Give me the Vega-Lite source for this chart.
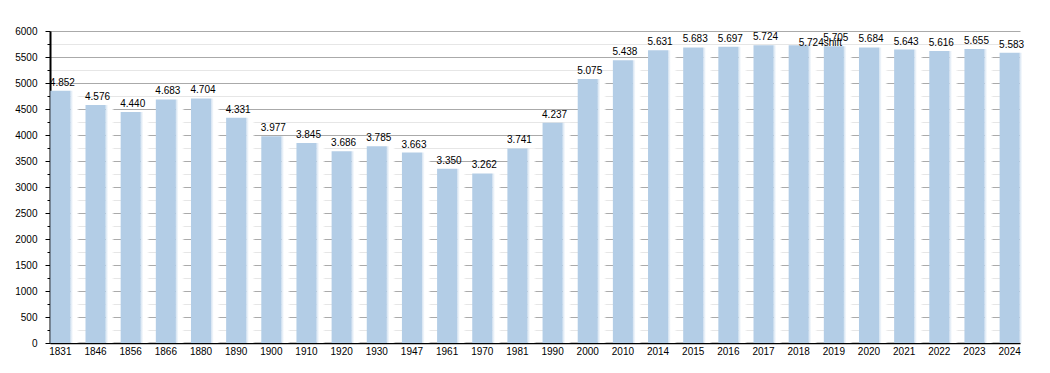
{
  "$schema": "https://vega.github.io/schema/vega-lite/v6.json",
  "width": 970,
  "height": 312,
  "autosize": {"type": "none"},
  "padding": {"left": 50, "top": 31, "right": 30, "bottom": 30},
  "background": "white",
  "config": {"view": {"stroke": null}, "font": "Liberation Sans"},
  "data": {"values": [
    {"year": 1831, "pop": 4852, "label": "4.852"},
    {"year": 1846, "pop": 4576, "label": "4.576"},
    {"year": 1856, "pop": 4440, "label": "4.440"},
    {"year": 1866, "pop": 4683, "label": "4.683"},
    {"year": 1880, "pop": 4704, "label": "4.704"},
    {"year": 1890, "pop": 4331, "label": "4.331"},
    {"year": 1900, "pop": 3977, "label": "3.977"},
    {"year": 1910, "pop": 3845, "label": "3.845"},
    {"year": 1920, "pop": 3686, "label": "3.686"},
    {"year": 1930, "pop": 3785, "label": "3.785"},
    {"year": 1947, "pop": 3663, "label": "3.663"},
    {"year": 1961, "pop": 3350, "label": "3.350"},
    {"year": 1970, "pop": 3262, "label": "3.262"},
    {"year": 1981, "pop": 3741, "label": "3.741"},
    {"year": 1990, "pop": 4237, "label": "4.237"},
    {"year": 2000, "pop": 5075, "label": "5.075"},
    {"year": 2010, "pop": 5438, "label": "5.438"},
    {"year": 2014, "pop": 5631, "label": "5.631"},
    {"year": 2015, "pop": 5683, "label": "5.683"},
    {"year": 2016, "pop": 5697, "label": "5.697"},
    {"year": 2017, "pop": 5724, "label": "5.724"},
    {"year": 2018, "pop": 5724, "label": "5.724shift"},
    {"year": 2019, "pop": 5705, "label": "5.705"},
    {"year": 2020, "pop": 5684, "label": "5.684"},
    {"year": 2021, "pop": 5643, "label": "5.643"},
    {"year": 2022, "pop": 5616, "label": "5.616"},
    {"year": 2023, "pop": 5655, "label": "5.655"},
    {"year": 2024, "pop": 5583, "label": "5.583"}
  ]},
  "encoding": {
    "x": {
      "field": "year", "type": "ordinal", "sort": null,
      "scale": {"paddingInner": 0.43, "paddingOuter": 0.01},
      "axis": {"title": null, "labelAngle": 0, "ticks": false, "domainColor": "#000000", "domainWidth": 1.5, "labelFontSize": 10, "labelColor": "#000000", "labelPadding": 3, "grid": false}
    },
    "y": {
      "field": "pop", "type": "quantitative",
      "scale": {"domain": [0, 6000], "nice": false, "zero": true},
      "axis": {
        "title": null,
        "values": [0,250,500,750,1000,1250,1500,1750,2000,2250,2500,2750,3000,3250,3500,3750,4000,4250,4500,4750,5000,5250,5500,5750,6000],
        "format": "d",
        "labelExpr": "datum.value % 500 == 0 ? datum.label : ''",
        "labelFontSize": 10, "labelColor": "#000000", "labelPadding": 8,
        "domainColor": "#000000", "domainWidth": 2,
        "tickColor": "#000000", "tickWidth": 1,
        "tickSize": {"condition": {"test": "datum.value % 500 == 0", "value": 5}, "value": 3},
        "grid": true,
        "gridColor": {"condition": {"test": "datum.value % 500 == 0", "value": "#aaaaaa"}, "value": "#e6e6e6"},
        "gridWidth": 1
      }
    }
  },
  "layer": [
    {
      "mark": {"type": "bar", "width": 9, "xOffset": 14.5,
        "color": {"gradient": "linear", "x1": 0, "y1": 0, "x2": 1, "y2": 0,
          "stops": [
            {"offset": 0, "color": "#d3e2f1"},
            {"offset": 0.3, "color": "#ffffff"},
            {"offset": 0.7, "color": "#ffffff"},
            {"offset": 1, "color": "rgba(255,255,255,0)"}
          ]}
      }
    },
    {
      "mark": {"type": "bar", "color": "#b3cde6"}
    },
    {
      "transform": [{"filter": "datum.year != 2018"}],
      "mark": {"type": "text", "baseline": "alphabetic", "dy": -5, "dx": 2, "fontSize": 10, "color": "#000000"},
      "encoding": {"text": {"field": "label"}}
    },
    {
      "transform": [{"filter": "datum.year == 2018"}],
      "mark": {"type": "text", "baseline": "alphabetic", "align": "left", "dy": 1, "fontSize": 10, "color": "#000000"},
      "encoding": {"text": {"field": "label"}}
    }
  ]
}
